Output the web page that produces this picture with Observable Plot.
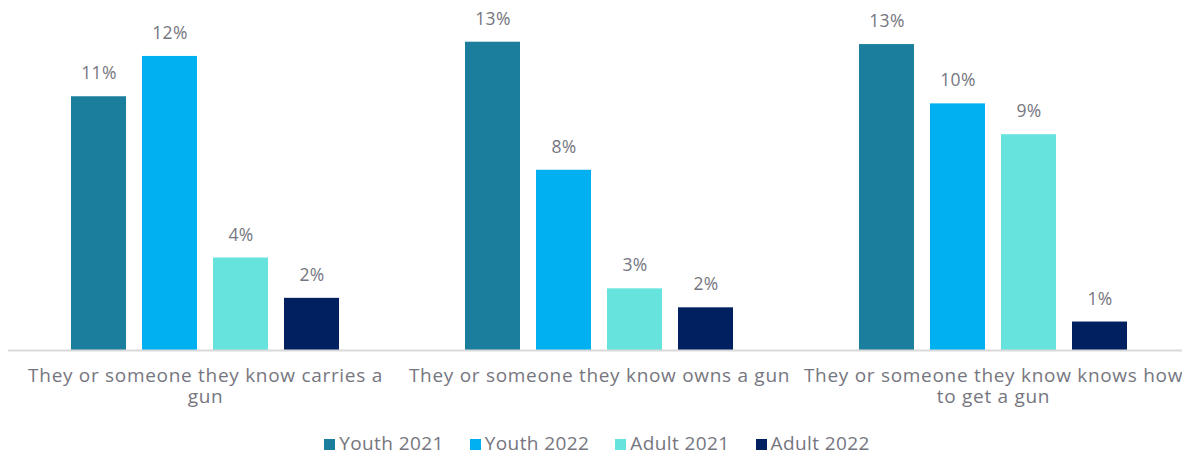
<!DOCTYPE html>
<html>
<head>
<meta charset="utf-8">
<script src="https://cdn.jsdelivr.net/npm/d3@7"></script>
<script src="https://cdn.jsdelivr.net/npm/@observablehq/plot@0.6"></script>
<style>
  html, body { margin: 0; padding: 0; background: #fff; overflow: hidden; }
  #chart { width: 1182px; overflow: hidden; }
  #chart svg { max-width: none !important; }
  .group-label text { letter-spacing: 0.7px; }
  .value-label text { letter-spacing: 0.3px; }
  #legend {
    display: flex; justify-content: center; gap: 26px;
    width: 1170px; height: 26px; line-height: 26px; padding-left: 12px;
    font-family: "Open Sans", sans-serif; font-size: 19px; color: #767680;
    letter-spacing: 0.4px;
  }
  #legend span.item { display: inline-flex; align-items: center; }
  #legend span.sw { display: inline-block; width: 11px; height: 11px; margin-right: 4px; margin-top: 3px; }
</style>
</head>
<body>
<div id="chart"></div>
<div id="legend"></div>
<script>
// Questions asked (one group of bars each)
const questions = [
  "They or someone they know carries a gun",
  "They or someone they know owns a gun",
  "They or someone they know knows how to get a gun"
];
// Wrapped group labels shown under the axis
const questionLabels = [
  "They or someone they know carries a\ngun",
  "They or someone they know owns a gun",
  "They or someone they know knows how\nto get a gun"
];
// Survey groups
const series = ["Youth 2021", "Youth 2022", "Adult 2021", "Adult 2022"];
const seriesColors = ["#1b7e9c", "#00b0f0", "#66e3dd", "#002060"];
// Share answering yes (%), one list per survey group, in question order
const youth2021 = [10.7, 13.0, 12.9];
const youth2022 = [12.4, 7.6, 10.4];
const adult2021 = [3.9, 2.6, 9.1];
const adult2022 = [2.2, 1.8, 1.2];

const seriesValues = [youth2021, youth2022, adult2021, adult2022];
const data = [];
questions.forEach((q, qi) => {
  series.forEach((s, si) => {
    data.push({question: q, series: s, value: seriesValues[si][qi]});
  });
});

const labelOf = new Map(questions.map((q, i) => [q, questionLabels[i]]));
const textColor = "#767680";

const chart = Plot.plot({
  width: 1190,
  height: 430,
  marginLeft: 8,
  marginRight: 0,
  marginTop: 18,
  marginBottom: 80,
  style: {fontFamily: "Open Sans, sans-serif", background: "#fff", maxWidth: "none"},
  fx: {domain: questions, padding: 0, label: null, axis: null},
  x: {domain: series, paddingInner: 0.22, paddingOuter: 0.86, axis: null},
  y: {domain: [0, 14], axis: null},
  color: {domain: series, range: seriesColors},
  marks: [
    Plot.barY(data, {fx: "question", x: "series", y: "value", fill: "series"}),
    Plot.text(data, {
      fx: "question", x: "series", y: "value",
      text: d => `${Math.round(d.value)}%`,
      dy: -23, fontSize: 17.5, fill: textColor, className: "value-label"
    }),
    Plot.ruleY([0], {stroke: "#d9d9d9", strokeWidth: 2}),
    Plot.axisFx({
      anchor: "bottom", className: "group-label",
      tickSize: 0, tickPadding: 17, fontSize: 19, fill: textColor,
      tickFormat: d => labelOf.get(d), label: null, lineHeight: 1.1
    })
  ]
});
document.getElementById("chart").appendChild(chart);

const legend = document.getElementById("legend");
series.forEach((s, i) => {
  const item = document.createElement("span");
  item.className = "item";
  const sw = document.createElement("span");
  sw.className = "sw";
  sw.style.background = seriesColors[i];
  item.appendChild(sw);
  item.appendChild(document.createTextNode(s));
  legend.appendChild(item);
});
</script>
</body>
</html>
